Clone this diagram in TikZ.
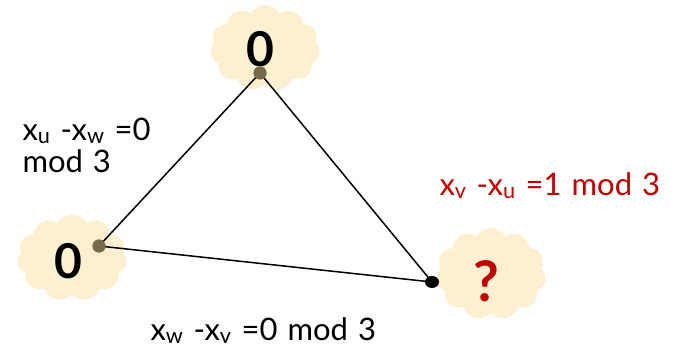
\documentclass[tikz,border=0pt]{standalone}
\usepackage{fontspec}
\setmainfont{Lato}
\usetikzlibrary{shapes.symbols,shapes.geometric,positioning}
\definecolor{cream}{RGB}{253,240,208}
\definecolor{olive}{RGB}{118,106,74}
\definecolor{darkred}{RGB}{192,0,0}
\newcommand{\labfont}{\fontsize{31}{36}\selectfont\spaceskip=10pt plus 2pt\relax}
\tikzset{
 puff/.style={cloud, cloud puffs=11, cloud puff arc=120, aspect=1.3, fill=cream, draw=none, minimum width=110pt, minimum height=86pt},
 vertex/.style={circle, fill=olive, inner sep=0pt, minimum size=13pt},
 lab/.style={font=\labfont, anchor=base west},
 big/.style={font=\fontsize{48}{52}\bfseries},
}
\begin{document}
\begin{tikzpicture}[x=1pt,y=-1pt]
 \useasboundingbox (0,0) rectangle (691,361);
 \node[puff] (cu) at (265,48) {};
 \node[puff] (cw) at (72,258) {};
 \node[puff, minimum height=92pt] (cv) at (491,274) {};
 \node[big] (nu) at (260,49) {0};
 \node[big] (nw) at (68,261) {0};
 \node[big, font=\fontsize{56}{60}\bfseries, text=darkred] (nv) at (486,281) {?};
 \node[vertex] (u) at (260,73) {};
 \node[vertex] (w) at (99,246) {};
 \node[vertex, ellipse, fill=black, minimum width=14pt, minimum height=12pt] (v) at (432,282) {};
 \draw[black, line width=1.5pt] (u.center) -- (w.center);
 \draw[black, line width=1.5pt] (w.center) -- (v.center);
 \draw[black, line width=1.5pt] (u.center) -- (v.center);
 \node[vertex] at (u) {};
 \node[vertex] at (w) {};
 \node[lab] (luw) at (19,140) {x\textsubscript{u} -x\textsubscript{w} =0};
 \node[lab] (luw2) at (19,172) {mod 3};
 \node[lab, text=darkred] (lvu) at (436,195) {x\textsubscript{v} -x\textsubscript{u} =1 mod 3};
 \node[lab] (lwv) at (147,340) {x\textsubscript{w} -x\textsubscript{v} =0 mod 3};
\end{tikzpicture}
\end{document}
